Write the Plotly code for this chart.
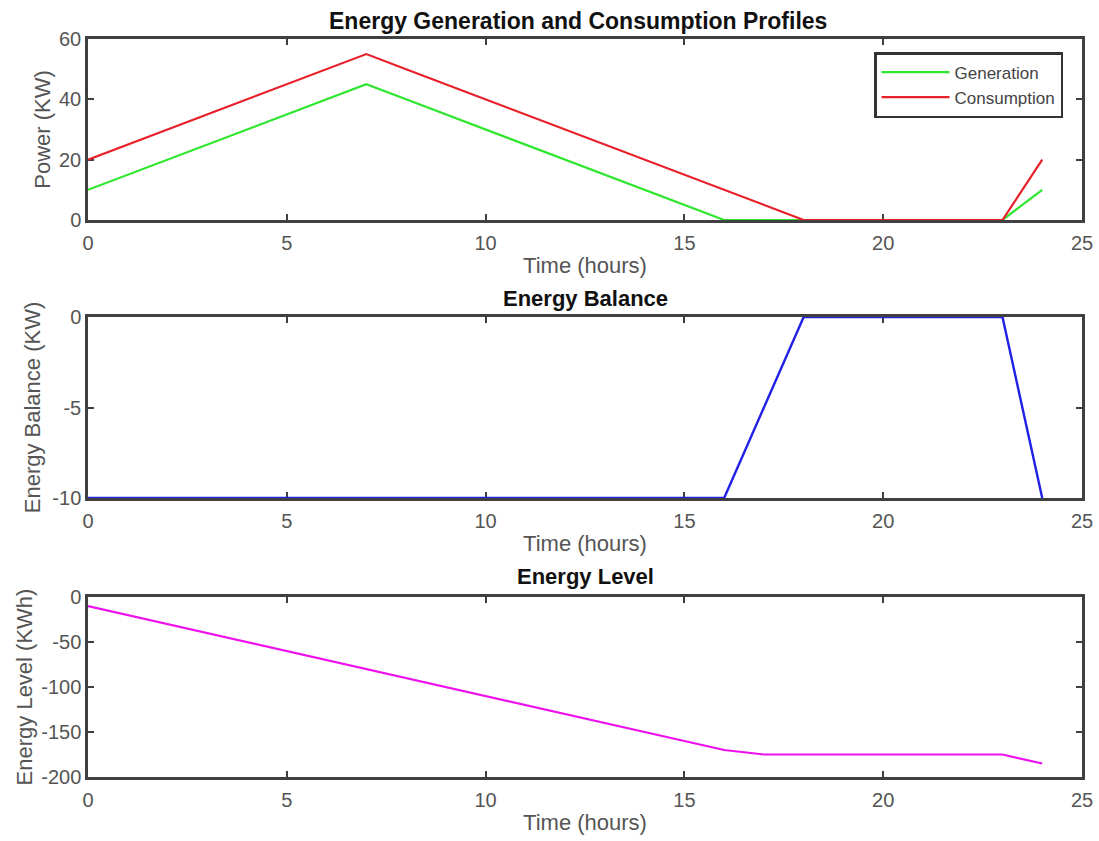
import plotly.graph_objects as go

hours = list(range(0, 25))
generation = [10, 15, 20, 25, 30, 35, 40, 45, 40, 35, 30, 25, 20, 15, 10, 5, 0, 0, 0, 0, 0, 0, 0, 0, 10]
consumption = [20, 25, 30, 35, 40, 45, 50, 55, 50, 45, 40, 35, 30, 25, 20, 15, 10, 5, 0, 0, 0, 0, 0, 0, 20]
balance = [g - c for g, c in zip(generation, consumption)]
level = []
acc = 0
for b in balance:
    acc += b
    level.append(acc)

x_ticks = [0, 5, 10, 15, 20, 25]
power_ticks = [0, 20, 40, 60]
balance_ticks = [-10, -5, 0]
level_ticks = [-200, -150, -100, -50, 0]

W, H = 1099, 841
FONT = "Liberation Sans, Arial, sans-serif"
AX = "#404040"
TXT = "#555555"

fig = go.Figure()
fig.add_trace(go.Scatter(x=hours, y=generation, mode="lines", name="Generation",
                         line=dict(color="#2ee62e", width=2.2), xaxis="x", yaxis="y"))
fig.add_trace(go.Scatter(x=hours, y=consumption, mode="lines", name="Consumption",
                         line=dict(color="#e8202a", width=2.2), xaxis="x", yaxis="y"))
fig.add_trace(go.Scatter(x=hours, y=balance, mode="lines", name="Balance", showlegend=False,
                         line=dict(color="#2020e6", width=2.4), xaxis="x2", yaxis="y2"))
fig.add_trace(go.Scatter(x=hours, y=level, mode="lines", name="Level", showlegend=False,
                         line=dict(color="#ee10ee", width=2.2), xaxis="x3", yaxis="y3"))

def py(top_px, bot_px):
    return [(H - bot_px) / H, (H - top_px) / H]

xdom = [88 / W, 1082 / W]
panels = [
    ("", "y", (39, 220), [0, 60], power_ticks, "Power (KW)", 3),
    ("2", "y2", (317, 498), [-10, 0], balance_ticks, "Energy Balance (KW)", 6),
    ("3", "y3", (597, 777), [-200, 0], level_ticks, "Energy Level (KWh)", 3),
]

def lab(v):
    return ("-" + str(-v)) if v < 0 else str(v)

axis_common = dict(showline=True, linecolor=AX, linewidth=2.5, mirror="ticks",
                   ticks="inside", ticklen=6, tickwidth=2, tickcolor=AX,
                   showgrid=False, zeroline=False, automargin=False,
                   layer="below traces",
                   tickfont=dict(family=FONT, size=20, color=TXT))

layout = dict(width=W, height=H, margin=dict(l=0, r=0, t=0, b=0),
              paper_bgcolor="white", plot_bgcolor="white",
              font=dict(family=FONT, color=TXT),
              legend=dict(x=1063 / W, y=(H - 52) / H, xanchor="right", yanchor="top",
                          bordercolor="#333333", borderwidth=2.5, bgcolor="white",
                          font=dict(family=FONT, size=17, color="#444444"),
                          tracegroupgap=0, itemwidth=68))

titles = ["Energy Generation and Consumption Profiles", "Energy Balance", "Energy Level"]
title_y = [21, 298, 577]
title_x = [578, 585, 585]
title_size = [23, 22, 22]
annotations = []
for i, (suf, yname, (t, b), yr, yt, ytitle, ystand) in enumerate(panels):
    xa = dict(axis_common, domain=xdom, range=[0, 25], tickvals=x_ticks,
              ticktext=[lab(v) for v in x_ticks], ticklabelstandoff=3,
              anchor=yname, title=dict(text="Time (hours)", standoff=5,
                                       font=dict(family=FONT, size=22, color=TXT)))
    ya = dict(axis_common, domain=py(t, b), range=yr, tickvals=yt,
              ticktext=[lab(v) for v in yt], ticklabelstandoff=0,
              anchor="x" + suf, title=dict(text=ytitle, standoff=ystand,
                                           font=dict(family=FONT, size=22, color=TXT)))
    layout["xaxis" + suf] = xa
    layout["yaxis" + suf] = ya
    annotations.append(dict(text="<b>" + titles[i] + "</b>", x=title_x[i] / W,
                            y=(H - title_y[i]) / H, xref="paper", yref="paper",
                            showarrow=False, xanchor="center", yanchor="middle",
                            font=dict(family=FONT, size=title_size[i], color="#111111")))
layout["annotations"] = annotations
fig.update_layout(**layout)
fig.write_html("out.html")
